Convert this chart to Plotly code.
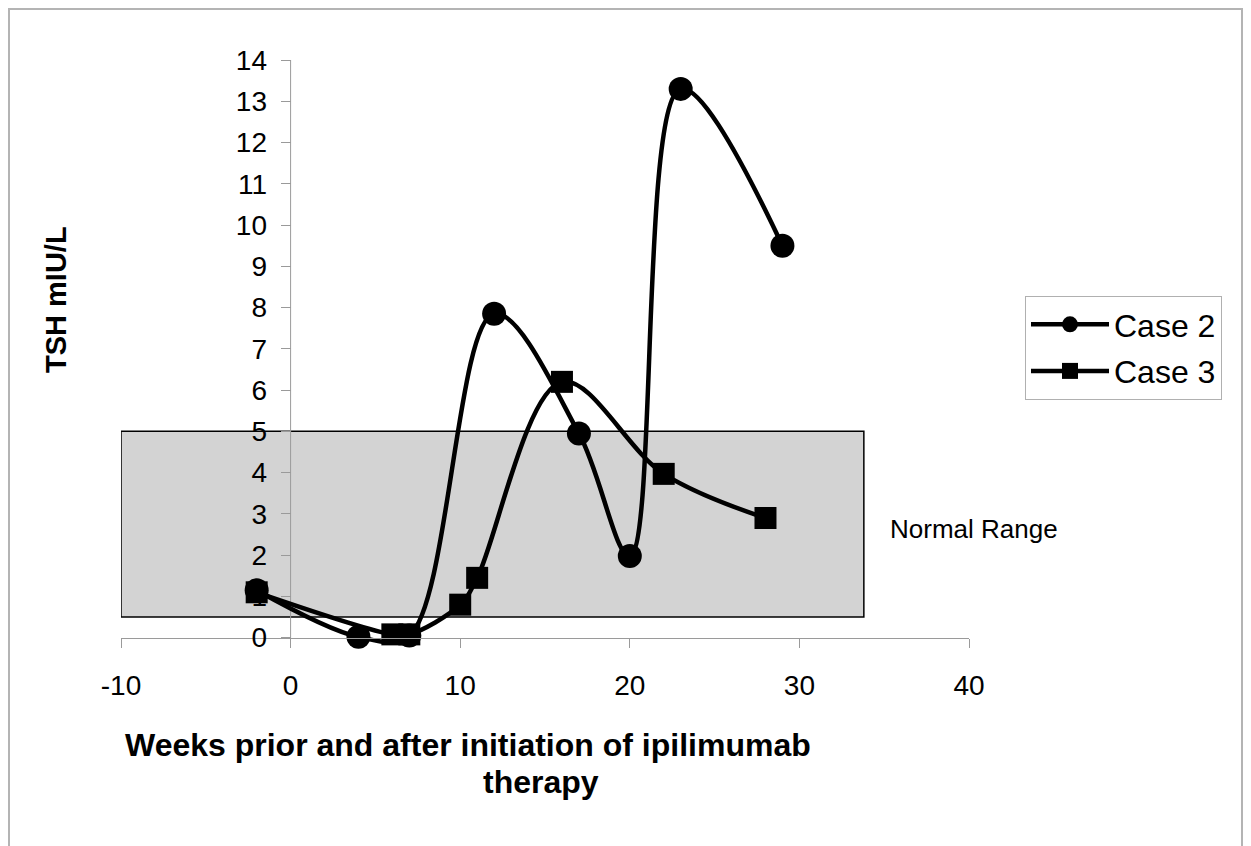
import plotly.graph_objects as go

# ---- data ----
case2_weeks = [-2, 4, 7, 12, 17, 20, 23, 29]
case2_tsh = [1.15, 0.02, 0.05, 7.85, 4.95, 1.98, 13.3, 9.5]
case3_weeks = [-2, 6, 7, 10, 11, 16, 22, 28]
case3_tsh = [1.1, 0.08, 0.08, 0.8, 1.45, 6.2, 3.97, 2.9]
normal_low, normal_high = 0.5, 5.0
normal_x_start, normal_x_end = -10, 33.8
x_ticks = [-10, 0, 10, 20, 30, 40]
y_ticks = list(range(0, 15))

FONT = "Arial, Liberation Sans, sans-serif"
AXIS_GRAY = "#9a9a9a"

# page offset (body margin of the html page)
OFF = 8
PLOT_L, PLOT_T, PLOT_W, PLOT_H = 121, 60, 848, 588
FIG_W, FIG_H = 1243, 838

fig = go.Figure()

fig.add_trace(go.Scatter(
    x=case2_weeks, y=case2_tsh, name="Case 2", mode="lines+markers",
    legendgroup="c2",
    line=dict(color="black", width=4.5, shape="spline", smoothing=1.0),
    marker=dict(symbol="circle", size=24, color="black"),
    cliponaxis=False,
))
fig.add_trace(go.Scatter(
    x=case3_weeks, y=case3_tsh, name="Case 3", mode="lines+markers",
    legendgroup="c3",
    line=dict(color="black", width=4.5, shape="spline", smoothing=1.0),
    marker=dict(symbol="square", size=22, color="black"),
    cliponaxis=False,
))

y_min = -0.25
fig.update_layout(
    width=FIG_W, height=FIG_H,
    margin=dict(l=PLOT_L - OFF, r=FIG_W - (PLOT_L - OFF) - PLOT_W, t=PLOT_T - OFF,
                b=FIG_H - (PLOT_T - OFF) - PLOT_H, pad=0),
    paper_bgcolor="white", plot_bgcolor="white",
    font=dict(family=FONT, color="black"),
    showlegend=True,
    legend=dict(
        x=(1025 - PLOT_L) / PLOT_W, y=(PLOT_T + PLOT_H - 296) / PLOT_H,
        xanchor="left", yanchor="top",
        bordercolor="#b0b0b0", borderwidth=1,
        font=dict(size=32, family=FONT),
        itemwidth=78, tracegroupgap=2,
    ),
    xaxis=dict(
        range=[-10, 40], tickvals=x_ticks, ticktext=[str(v) for v in x_ticks],
        showgrid=False, zeroline=False, showline=True, linecolor=AXIS_GRAY, linewidth=1,
        ticks="outside", ticklen=9, tickcolor=AXIS_GRAY, tickwidth=1,
        tickfont=dict(size=28, family=FONT), ticklabelstandoff=14,
        anchor="free", position=(0 - y_min) / (14 - y_min),
    ),
    yaxis=dict(
        range=[y_min, 14], tickvals=y_ticks, ticktext=[str(v) for v in y_ticks],
        showgrid=False, zeroline=False, showline=False,
        ticks="outside", ticklen=10, tickcolor=AXIS_GRAY, tickwidth=1,
        tickfont=dict(size=28, family=FONT), ticklabelstandoff=8,
        anchor="free", position=(0 - (-10)) / 50,
    ),
)

# normal range box
fig.add_shape(type="rect", xref="x", yref="y", x0=normal_x_start, x1=normal_x_end,
              y0=normal_low, y1=normal_high, fillcolor="#d3d3d3",
              line=dict(color="black", width=1.5), layer="below")
# y axis line from 0 to 14
fig.add_shape(type="line", xref="x", yref="y", x0=0, x1=0, y0=0, y1=14,
              line=dict(color=AXIS_GRAY, width=1), layer="below")


# page pixel -> paper coordinates
def px_x(p):
    return (p - PLOT_L) / PLOT_W


def px_y(p):
    return (PLOT_T + PLOT_H - p) / PLOT_H


fig.add_shape(type="rect", xref="paper", yref="paper",
              x0=px_x(9), x1=px_x(1242), y0=px_y(850), y1=px_y(9),
              line=dict(color="#b4b4b4", width=2), fillcolor="rgba(0,0,0,0)", layer="below")

# annotations
fig.add_annotation(text="Normal Range", xref="paper", yref="paper",
                   x=px_x(888), y=px_y(529), xanchor="left", yanchor="middle",
                   showarrow=False, font=dict(size=26, family=FONT))
fig.add_annotation(text="<b>TSH mIU/L</b>", xref="paper", yref="paper",
                   x=px_x(56), y=px_y(300), xanchor="center", yanchor="middle",
                   textangle=-90, showarrow=False, font=dict(size=29, family=FONT))
fig.add_annotation(text="<b>Weeks prior and after initiation of ipilimumab</b>",
                   xref="paper", yref="paper", x=px_x(468), y=px_y(745),
                   xanchor="center", yanchor="middle", showarrow=False,
                   font=dict(size=32, family=FONT))
fig.add_annotation(text="<b>therapy</b>", xref="paper", yref="paper",
                   x=px_x(541), y=px_y(782), xanchor="center", yanchor="middle",
                   showarrow=False, font=dict(size=32, family=FONT))

fig.write_html("out.html")
